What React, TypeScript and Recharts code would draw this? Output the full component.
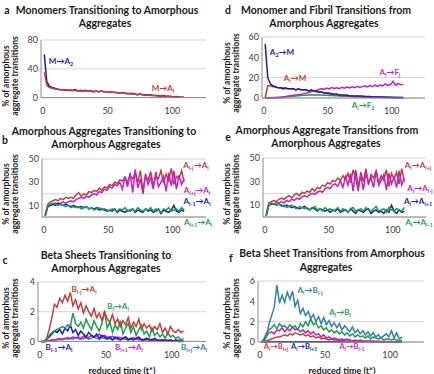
import React from 'react';
import { LineChart, Line, XAxis, YAxis, CartesianGrid } from 'recharts';

const RED = '#C0403D';
const BLUE = '#1C1CB0';
const GREEN = '#1E9E50';
const MAGENTA = '#C41FC4';
const TEAL = '#31859C';
const FONT = 'Lato, "Open Sans", sans-serif';

// reduced time (t*)
const TIME = [
  1, 3, 5, 7, 9, 11, 13, 15, 17, 19, 21,
  23, 25, 27, 29, 31, 33, 35, 37, 39, 41, 43,
  45, 47, 49, 51, 53, 55, 57, 59, 61, 63, 65,
  67, 69, 71, 73, 75, 77, 79, 81, 83, 85, 87,
  89, 91, 93, 95, 97, 99, 101, 103, 105, 107, 109,
];
const X_TICKS = [0, 50, 100];

// a: monomers -> amorphous aggregates
const aM_A2 = [
  60, 22, 16, 14, 13, 12, 11, 11, 10, 11, 10,
  10, 11, 9, 10, 9, 10, 9, 9, 8, 9, 8,
  9, 8, 8, 7, 8, 7, 7, 6, 7, 6, 6,
  5, 6, 5, 4, 5, 4, 4, 3, 4, 3, 3,
  3, 2, 3, 2, 2, 1.5, 1, 1.5, 1, 0.5, 0.5,
];
const aM_Ai = [
  35, 17, 14, 13, 12, 12, 11, 11, 11, 10, 11,
  10, 10, 10, 9, 10, 9, 9, 10, 8, 9, 8,
  9, 8, 8, 7, 8, 7, 7, 6, 7, 6, 5,
  6, 5, 5, 4, 5, 4, 3, 4, 3, 3, 3,
  2, 3, 2, 2, 1.5, 1.5, 1, 1, 0.5, 0.5, 0.5,
];

// b: amorphous aggregates -> amorphous aggregates
const bAimj_Ai = [
  2, 11, 13, 14, 15, 14, 16, 15, 17, 16, 17,
  16, 19, 21, 18, 20, 19, 22, 21, 23, 22, 25,
  23, 26, 25, 28, 27, 30, 29, 32, 31, 34, 30,
  36, 33, 38, 30, 40, 22, 36, 32, 39, 27, 35,
  33, 40, 29, 37, 31, 42, 28, 35, 33, 40, 30,
];
const bAipj_Ai = [
  1, 9, 10, 11, 12, 11, 12, 13, 12, 13, 14,
  13, 15, 16, 17, 16, 18, 17, 19, 20, 19, 22,
  21, 24, 23, 26, 25, 28, 27, 30, 24, 35, 26,
  38, 21, 41, 25, 33, 20, 37, 28, 34, 24, 39,
  26, 30, 35, 22, 38, 27, 40, 24, 36, 28, 33,
];
const bAim1_Ai = [
  1, 9, 10, 11, 10, 12, 11, 10, 11, 10, 9,
  10, 9, 8, 9, 8, 9, 7, 8, 7, 8, 6,
  7, 6, 5, 6, 5, 7, 4, 6, 5, 4, 6,
  5, 7, 4, 6, 5, 4, 7, 5, 6, 4, 5,
  7, 3, 6, 5, 4, 6, 10, 5, 4, 6, 5,
];
const bAip1_Ai = [
  1, 10, 11, 12, 11, 10, 11, 10, 9, 10, 8,
  9, 8, 9, 7, 8, 9, 7, 8, 6, 7, 8,
  6, 7, 6, 5, 7, 6, 5, 7, 6, 8, 5,
  6, 7, 5, 8, 6, 5, 7, 6, 8, 5, 7,
  6, 4, 7, 6, 8, 5, 6, 7, 5, 8, 6,
];

// c: beta sheets -> amorphous aggregates
const cBimj_Ai = [
  0, 0, 0.2, 0.8, 1.6, 2.5, 2.3, 2.9, 2.6, 3.1, 2.7,
  3.3, 2.4, 2.8, 2.2, 2.6, 1.9, 2.4, 2.0, 1.7, 2.2, 1.6,
  1.9, 1.4, 2.0, 1.5, 1.3, 1.8, 1.2, 1.5, 1.0, 1.4, 1.1,
  1.6, 0.9, 1.3, 1.0, 1.5, 0.8, 1.2, 0.9, 1.1, 0.7, 1.0,
  0.8, 1.2, 0.6, 0.9, 0.5, 1.0, 0.7, 0.6, 0.8, 0.6, 0.7,
];
const cBi_Ai = [
  0, 0, 0.1, 0.4, 0.6, 0.7, 0.8, 0.9, 1.0, 0.9, 1.1,
  1.0, 1.9, 1.2, 1.0, 1.3, 0.9, 1.5, 1.1, 0.8, 1.4, 1.0,
  0.7, 1.2, 2.0, 0.9, 1.3, 0.6, 1.1, 0.8, 1.4, 0.5, 0.9,
  1.2, 0.6, 1.0, 0.4, 0.8, 1.1, 0.5, 0.7, 0.3, 0.9, 0.4,
  0.6, 0.3, 0.5, 0.2, 0.6, 0.3, 0.4, 0.2, 0.3, 0.1, 0.2,
];
const cBim1_Ai = [
  0, 0, 0.1, 0.3, 0.5, 0.7, 0.6, 0.8, 0.5, 0.9, 0.7,
  1.1, 0.6, 0.8, 0.4, 0.7, 0.5, 0.3, 0.6, 0.4, 0.3, 0.5,
  0.2, 0.4, 0.3, 0.2, 0.3, 0.1, 0.3, 0.2, 0.1, 0.2, 0.3,
  0.1, 0.2, 0.1, 0.2, 0.3, 0.1, 0.1, 0.2, 0.1, 0.1, 0.2,
  0.1, 0, 0.1, 0.1, 0, 0.1, 0, 0.1, 0, 0, 0,
];
const cBip1_Ai = [
  0, 0, 0, 0.05, 0.1, 0.1, 0.15, 0.2, 0.15, 0.2, 0.25,
  0.2, 0.3, 0.25, 0.3, 0.2, 0.35, 0.3, 0.25, 0.4, 0.3, 0.35,
  0.5, 0.3, 0.4, 0.3, 0.25, 0.35, 0.2, 0.3, 0.25, 0.2, 0.3,
  0.15, 0.2, 0.25, 0.15, 0.2, 0.1, 0.15, 0.2, 0.1, 0.15, 0.1,
  0.05, 0.1, 0.1, 0.05, 0.1, 0.05, 0.05, 0.05, 0, 0.05, 0,
];
const cBipj_Ai = [
  0, 0, 0, 0.05, 0.1, 0.1, 0.1, 0.15, 0.1, 0.2, 0.15,
  0.2, 0.15, 0.25, 0.2, 0.15, 0.2, 0.25, 0.15, 0.2, 0.3, 0.2,
  0.15, 0.25, 0.2, 0.15, 0.2, 0.1, 0.2, 0.15, 0.1, 0.2, 0.15,
  0.1, 0.15, 0.1, 0.2, 0.1, 0.15, 0.1, 0.1, 0.15, 0.1, 0.05,
  0.1, 0.1, 0.05, 0.1, 0.05, 0.1, 0.05, 0.05, 0.1, 0.05, 0.05,
];

// d: amorphous aggregates -> monomers and fibrils
const dA2_M = [
  53, 20, 14, 12, 11, 10, 10, 9, 10, 9, 9,
  9, 8, 9, 8, 8, 8, 7, 8, 7, 7, 6,
  6, 5, 5, 5, 4, 4, 4, 3, 3, 3, 3,
  2, 2, 2, 2, 2, 2, 1.5, 1.5, 1.5, 1, 1,
  1, 1, 1, 0.8, 0.8, 0.7, 0.6, 0.6, 0.5, 0.5, 0.5,
];
const dAi_M = [
  0, 12, 12, 11, 11, 10, 10, 10, 9, 9, 9,
  9, 8, 9, 8, 8, 8, 7, 7, 7, 6, 6,
  6, 5, 5, 4, 4, 3, 3, 3, 2, 2, 2,
  2, 2, 1.5, 1.5, 1.5, 1, 1, 1, 1, 1, 0.8,
  0.8, 0.7, 0.6, 0.5, 0.5, 0.5, 0.4, 0.4, 0.3, 0.3, 0.3,
];
const dAi_Fj = [
  0, 0, 0.2, 0.4, 0.6, 0.8, 1, 1.3, 1.6, 2, 2.3,
  2.6, 3, 3.4, 3.8, 4.3, 4.8, 5.2, 6, 6.8, 7.5, 8.3,
  9, 8.5, 9.8, 9, 10.2, 9.4, 10, 9.2, 10.5, 9.6, 10.8,
  10, 11, 10.2, 11.5, 10.4, 11.2, 12, 10.8, 12.2, 11.2, 12.6,
  11.5, 12.8, 12, 13.8, 12.4, 13.2, 16.5, 12.6, 14.2, 13, 13.4,
];
const dAi_F2 = [
  0, 0, 0, 0, 0, 0.1, 0.3, 0.6, 1, 1.3, 1.6,
  1.8, 2, 2.2, 2.4, 2.6, 2.8, 3, 3.1, 3, 3.2, 2.9,
  3, 2.7, 2.8, 2.5, 2.6, 2.3, 2.2, 2, 2.1, 1.8, 1.7,
  1.6, 1.5, 1.4, 1.5, 1.3, 1.2, 1.1, 1.2, 1, 1, 0.9,
  0.8, 0.9, 0.7, 0.7, 0.6, 0.6, 0.5, 0.5, 0.4, 0.4, 0.3,
];

// e: amorphous aggregates -> amorphous aggregates (from)
const eAi_Aipj = [
  2, 12, 13, 14, 13, 15, 16, 15, 17, 18, 16,
  19, 20, 18, 21, 20, 22, 21, 24, 22, 25, 24,
  27, 26, 29, 28, 31, 30, 33, 31, 35, 32, 37,
  29, 40, 33, 22, 38, 30, 41, 27, 36, 33, 39,
  29, 35, 31, 40, 26, 37, 32, 38, 28, 41, 30,
];
const eAi_Aimj = [
  1, 10, 11, 11, 12, 12, 13, 12, 14, 13, 15,
  14, 16, 15, 17, 18, 17, 19, 20, 19, 21, 22,
  21, 24, 25, 24, 27, 28, 26, 31, 25, 34, 27,
  37, 22, 40, 26, 35, 23, 38, 29, 33, 25, 39,
  27, 31, 36, 23, 37, 28, 34, 25, 39, 27, 33,
];
const eAi_Aip1 = [
  1, 10, 11, 11, 10, 11, 10, 9, 10, 9, 8,
  9, 8, 7, 8, 9, 7, 6, 8, 7, 5, 7,
  6, 5, 6, 4, 6, 5, 7, 4, 5, 6, 4,
  7, 5, 3, 6, 5, 4, 6, 7, 3, 5, 6,
  4, 5, 3, 6, 4, 10, 5, 3, 6, 4, 5,
];
const eAi_Aim1 = [
  1, 10, 12, 11, 10, 11, 9, 10, 8, 9, 10,
  8, 7, 9, 8, 7, 8, 6, 7, 9, 6, 7,
  5, 8, 6, 7, 5, 6, 8, 5, 7, 6, 4,
  7, 8, 5, 6, 7, 5, 8, 6, 5, 7, 9,
  5, 6, 7, 4, 8, 6, 5, 7, 6, 5, 8,
];

// f: amorphous aggregates -> beta sheets
const fAi_Bimj = [
  0, 0, 0.5, 1.8, 2.6, 3.4, 5.6, 3.8, 4.6, 3.9, 4.9,
  4.2, 5.0, 3.5, 4.1, 2.8, 3.3, 2.6, 3.0, 2.3, 2.7, 2.0,
  2.5, 1.8, 2.4, 1.7, 2.1, 1.5, 1.9, 1.4, 1.8, 1.2, 1.6,
  1.3, 1.0, 1.5, 0.9, 1.2, 0.8, 1.1, 0.7, 1.0, 0.6, 0.9,
  0.5, 0.7, 0.4, 0.6, 0.8, 0.5, 1.1, 0.4, 0.9, 0.3, 0.5,
];
const fAi_Bi = [
  0, 0.3, 0.9, 1.2, 1.4, 1.7, 1.3, 1.8, 1.5, 1.6, 1.3,
  1.7, 1.4, 1.6, 1.2, 1.8, 1.5, 2.0, 1.6, 2.3, 1.7, 1.9,
  1.4, 1.6, 1.2, 1.4, 1.0, 1.2, 0.9, 1.1, 0.8, 1.0, 0.7,
  0.9, 0.6, 0.8, 0.5, 0.7, 0.5, 0.6, 0.4, 0.6, 0.3, 0.5,
  0.4, 0.3, 0.4, 0.2, 0.3, 0.3, 0.2, 0.3, 0.2, 0.1, 0.2,
];
const fAi_Bim1 = [
  0, 0.2, 0.6, 0.9, 1.0, 0.8, 1.2, 1.1, 1.4, 1.0, 1.3,
  1.1, 1.5, 1.2, 1.3, 1.0, 1.2, 0.9, 1.1, 0.8, 1.0, 0.7,
  0.8, 0.5, 0.7, 0.4, 0.5, 0.3, 0.4, 0.3, 0.2, 0.3, 0.2,
  0.3, 0.2, 0.1, 0.2, 0.1, 0.2, 0.1, 0.1, 0.1, 0.1, 0.1,
  0.05, 0.1, 0.05, 0.05, 0.05, 0.05, 0, 0.05, 0, 0, 0,
];
const fAi_Bipj = [
  0, 0, 0.1, 0.2, 0.3, 0.4, 0.5, 0.5, 0.6, 0.7, 0.6,
  0.8, 0.7, 0.9, 0.8, 0.7, 0.8, 0.6, 0.7, 0.5, 0.6, 0.4,
  0.5, 0.3, 0.4, 0.3, 0.2, 0.3, 0.2, 0.2, 0.1, 0.2, 0.1,
  0.1, 0.1, 0.1, 0.1, 0.05, 0.1, 0.05, 0.05, 0.05, 0.05, 0,
  0.05, 0, 0, 0, 0, 0, 0, 0, 0, 0, 0,
];
const fAi_Bip1 = [
  0, 0, 0, 0.02, 0.02, 0.02, 0.03, 0.02, 0.03, 0.02, 0.03,
  0.02, 0.03, 0.02, 0.02, 0.03, 0.02, 0.02, 0.03, 0.02, 0.02, 0.02,
  0.02, 0.02, 0.03, 0.02, 0.02, 0.02, 0.02, 0.02, 0.02, 0.02, 0.02,
  0.02, 0.02, 0.02, 0.02, 0.02, 0.02, 0.02, 0.02, 0.02, 0.02, 0.02,
  0.02, 0.02, 0.02, 0.02, 0.02, 0.02, 0.02, 0.02, 0.02, 0.02, 0.02,
];

type Series = { key: string; values: number[]; color: string };
type Rect = { left: number; right: number; top: number; bottom: number };

const YW = 24; // y axis width
const XH = 24; // x axis height
const MT = 5;
const MR = 4;

const Panel = ({ plot, yMax, yTicks, series }: { plot: Rect; yMax: number; yTicks: number[]; series: Series[] }) => {
  const rows = TIME.map((time, i) => {
    const r: any = { time };
    series.forEach((s) => (r[s.key] = s.values[i]));
    return r;
  });
  const w = plot.right - plot.left;
  const h = plot.bottom - plot.top;
  const tick = { fontSize: 9, fill: '#404040', fontFamily: FONT };
  return (
    <div style={{ position: 'absolute', left: plot.left - YW, top: plot.top - MT }}>
      <LineChart width={YW + w + MR} height={MT + h + XH} data={rows} margin={{ top: MT, right: MR, left: 0, bottom: 0 }}>
        <CartesianGrid vertical={false} stroke="#D4D4D4" />
        <XAxis dataKey="time" type="number" domain={[-1.5, 126]} ticks={X_TICKS} height={XH}
          tickLine={false} tickSize={0} tickMargin={10} axisLine={{ stroke: '#8C8C8C' }} tick={tick} />
        <YAxis type="number" domain={[0, yMax]} ticks={yTicks} width={YW}
          tickLine={false} tickSize={0} tickMargin={3} axisLine={{ stroke: '#8C8C8C' }} tick={tick} />
        {series.map((s) => (
          <Line key={s.key} dataKey={s.key} stroke={s.color} strokeWidth={1.5} dot={false}
            type="linear" isAnimationActive={false} />
        ))}
      </LineChart>
    </div>
  );
};

const Txt = ({ x, y, color = '#1a1a1a', size = 8, children }: any) => (
  <div style={{
    position: 'absolute', left: x, top: y, transform: 'translate(-50%, -50%)', whiteSpace: 'nowrap',
    color, fontSize: size, fontWeight: 700, fontFamily: FONT, lineHeight: 1,
  }}>{children}</div>
);

const S = ({ children }: any) => (
  <span style={{ fontSize: '0.68em', position: 'relative', top: '0.3em' }}>{children}</span>
);

// transition label like A_{i-j} -> A_i
const Tr = ({ a, as, b, bs }: any) => (
  <>{a}{as ? <S>{as}</S> : null}→{b}{bs ? <S>{bs}</S> : null}</>
);

const YTitle = ({ x, y }: { x: number; y: number }) => (
  <div style={{
    position: 'absolute', left: x, top: y, transform: 'translate(-50%, -50%) rotate(-90deg)',
    whiteSpace: 'nowrap', textAlign: 'center', fontSize: 8.5, fontWeight: 700, fontFamily: FONT,
    color: '#1a1a1a', lineHeight: '9px',
  }}>% of amorphous<br />aggregate transitions</div>
);

export default function App() {
  return (
    <div style={{ position: 'absolute', left: 0, top: 0, width: 434, height: 374, background: '#fff', overflow: 'hidden', fontFamily: FONT }}>
      {/* a */}
      <Txt x={7} y={10} size={10.5}>a</Txt>
      <Txt x={107} y={10} size={10.5}>Monomers Transitioning to Amorphous</Txt>
      <Txt x={105} y={23} size={10.5}>Aggregates</Txt>
      <YTitle x={11} y={76} />
      <Panel plot={{ left: 41, right: 206, top: 39.7, bottom: 97.3 }} yMax={80} yTicks={[0, 20, 40, 60, 80]}
        series={[
          { key: 'mA2', values: aM_A2, color: BLUE },
          { key: 'mAi', values: aM_Ai, color: RED },
        ]} />
      <Txt x={61} y={61} color={BLUE}><Tr a="M" b="A" bs="2" /></Txt>
      <Txt x={163} y={88} color={RED}><Tr a="M" b="A" bs="i" /></Txt>

      {/* b */}
      <Txt x={5} y={140} size={10.5}>b</Txt>
      <Txt x={104} y={131} size={10.5}>Amorphous Aggregates Transitioning to</Txt>
      <Txt x={106} y={144} size={10.5}>Amorphous Aggregates</Txt>
      <YTitle x={11} y={194} />
      <Panel plot={{ left: 42, right: 206, top: 159.3, bottom: 217.3 }} yMax={50} yTicks={[0, 10, 20, 30, 40, 50]}
        series={[
          { key: 'red', values: bAimj_Ai, color: RED },
          { key: 'mag', values: bAipj_Ai, color: MAGENTA },
          { key: 'blu', values: bAim1_Ai, color: BLUE },
          { key: 'grn', values: bAip1_Ai, color: GREEN },
        ]} />
      <Txt x={196} y={165} color={RED}><Tr a="A" as="i-j" b="A" bs="i" /></Txt>
      <Txt x={197} y={190} color={MAGENTA}><Tr a="A" as="i+j" b="A" bs="i" /></Txt>
      <Txt x={197} y={201} color={BLUE}><Tr a="A" as="i-1" b="A" bs="i" /></Txt>
      <Txt x={198} y={222} color={GREEN}><Tr a="A" as="i+1" b="A" bs="i" /></Txt>

      {/* c */}
      <Txt x={5} y={260} size={10.5}>c</Txt>
      <Txt x={106} y={255} size={10.5}>Beta Sheets Transitioning to</Txt>
      <Txt x={106} y={268} size={10.5}>Amorphous Aggregates</Txt>
      <YTitle x={11} y={318} />
      <Panel plot={{ left: 38, right: 206, top: 282.3, bottom: 341.7 }} yMax={4} yTicks={[0, 1, 2, 3, 4]}
        series={[
          { key: 'tea', values: cBipj_Ai, color: TEAL },
          { key: 'mag', values: cBip1_Ai, color: MAGENTA },
          { key: 'blu', values: cBim1_Ai, color: BLUE },
          { key: 'grn', values: cBi_Ai, color: GREEN },
          { key: 'red', values: cBimj_Ai, color: RED },
        ]} />
      <Txt x={84} y={289} color={RED}><Tr a="B" as="i-j" b="A" bs="i" /></Txt>
      <Txt x={118} y={306} color={GREEN}><Tr a="B" as="i" b="A" bs="i" /></Txt>
      <Txt x={59} y={347} color={BLUE}><Tr a="B" as="i-1" b="A" bs="i" /></Txt>
      <Txt x={129} y={347} color={MAGENTA}><Tr a="B" as="i+1" b="A" bs="i" /></Txt>
      <Txt x={194} y={347} color={TEAL}><Tr a="B" as="i+j" b="A" bs="i" /></Txt>
      <Txt x={122} y={370} size={9}>reduced time (t*)</Txt>

      {/* d */}
      <Txt x={228} y={10} size={10.5}>d</Txt>
      <Txt x={326} y={10} size={10.5}>Monomer and Fibril Transitions from</Txt>
      <Txt x={324} y={23} size={10.5}>Amorphous Aggregates</Txt>
      <YTitle x={232} y={73} />
      <Panel plot={{ left: 262, right: 425, top: 36.7, bottom: 97.7 }} yMax={60} yTicks={[0, 20, 40, 60]}
        series={[
          { key: 'grn', values: dAi_F2, color: GREEN },
          { key: 'mag', values: dAi_Fj, color: MAGENTA },
          { key: 'red', values: dAi_M, color: RED },
          { key: 'blu', values: dA2_M, color: BLUE },
        ]} />
      <Txt x={282} y={52} color={BLUE}><Tr a="A" as="2" b="M" /></Txt>
      <Txt x={295} y={78} color={RED}><Tr a="A" as="i" b="M" /></Txt>
      <Txt x={390} y={72} color={MAGENTA}><Tr a="A" as="i" b="F" bs="j" /></Txt>
      <Txt x={363} y={105} color={GREEN}><Tr a="A" as="i" b="F" bs="2" /></Txt>

      {/* e */}
      <Txt x={228} y={137} size={10.5}>e</Txt>
      <Txt x={327} y={130} size={10.5}>Amorphous Aggregate Transitions from</Txt>
      <Txt x={326} y={143} size={10.5}>Amorphous Aggregates</Txt>
      <YTitle x={232} y={194} />
      <Panel plot={{ left: 263, right: 426, top: 158.3, bottom: 217.3 }} yMax={50} yTicks={[0, 10, 20, 30, 40, 50]}
        series={[
          { key: 'red', values: eAi_Aipj, color: RED },
          { key: 'mag', values: eAi_Aimj, color: MAGENTA },
          { key: 'blu', values: eAi_Aip1, color: BLUE },
          { key: 'grn', values: eAi_Aim1, color: GREEN },
        ]} />
      <Txt x={418} y={165} color={RED}><Tr a="A" as="i" b="A" bs="i+j" /></Txt>
      <Txt x={420} y={188} color={MAGENTA}><Tr a="A" as="i" b="A" bs="i-j" /></Txt>
      <Txt x={418} y={201} color={BLUE}><Tr a="A" as="i" b="A" bs="i+1" /></Txt>
      <Txt x={419} y={222} color={GREEN}><Tr a="A" as="i" b="A" bs="i-1" /></Txt>

      {/* f */}
      <Txt x={231} y={258} size={10.5}>f</Txt>
      <Txt x={332} y={253} size={10.5}>Beta Sheet Transitions from Amorphous</Txt>
      <Txt x={326} y={267} size={10.5}>Aggregates</Txt>
      <YTitle x={232} y={318} />
      <Panel plot={{ left: 258, right: 424, top: 280.7, bottom: 341.7 }} yMax={6} yTicks={[0, 2, 4, 6]}
        series={[
          { key: 'blu', values: fAi_Bip1, color: BLUE },
          { key: 'red', values: fAi_Bipj, color: RED },
          { key: 'mag', values: fAi_Bim1, color: MAGENTA },
          { key: 'grn', values: fAi_Bi, color: GREEN },
          { key: 'tea', values: fAi_Bimj, color: TEAL },
        ]} />
      <Txt x={310} y={290} color={TEAL}><Tr a="A" as="i" b="B" bs="i-j" /></Txt>
      <Txt x={340} y={312} color={GREEN}><Tr a="A" as="i" b="B" bs="i" /></Txt>
      <Txt x={276} y={347} size={7.5} color={RED}><Tr a="A" as="i" b="B" bs="i+j" /></Txt>
      <Txt x={304} y={347} size={7.5} color={BLUE}><Tr a="A" as="i" b="B" bs="i+1" /></Txt>
      <Txt x={352} y={347} size={7.5} color={MAGENTA}><Tr a="A" as="i" b="B" bs="i-1" /></Txt>
      <Txt x={342} y={370} size={9}>reduced time (t*)</Txt>
    </div>
  );
}
